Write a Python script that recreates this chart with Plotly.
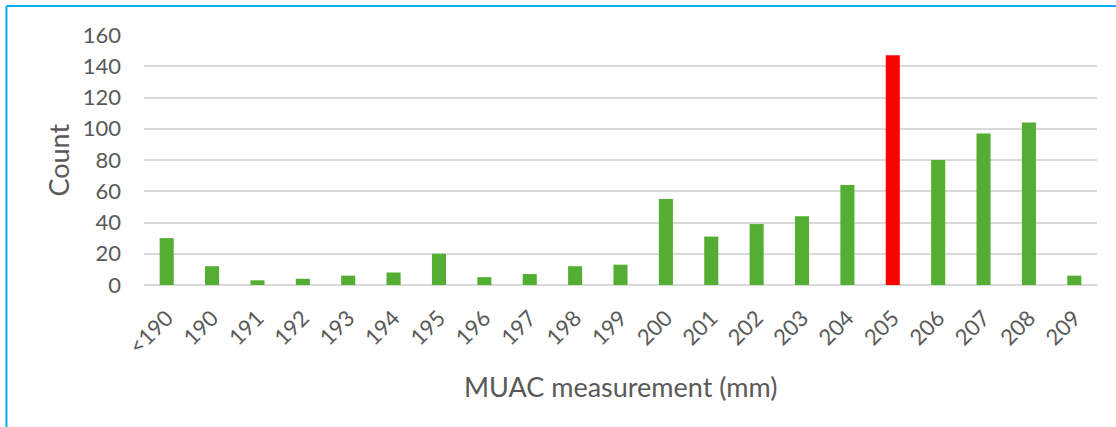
import plotly.graph_objects as go

# MUAC measurement bins and their counts
categories = ["<190", "190", "191", "192", "193", "194", "195", "196", "197", "198",
              "199", "200", "201", "202", "203", "204", "205", "206", "207", "208", "209"]
counts = [30, 12, 3, 4, 6, 8, 20, 5, 7, 12, 13, 55, 31, 39, 44, 64, 147, 80, 97, 104, 6]
highlight = "205"

y_ticks = [0, 20, 40, 60, 80, 100, 120, 140, 160]

GREEN = "#53AE33"
RED = "#FF0000"
TEXT = "#595959"
GRID = "#D9D9D9"
FRAME = "#00B0F0"
FONT = "Lato"

bar_colors = [RED if c == highlight else GREEN for c in categories]

fig = go.Figure(
    go.Bar(
        x=categories,
        y=counts,
        marker=dict(color=bar_colors, line=dict(width=0)),
        width=0.31,
        hoverinfo="x+y",
    )
)

fig.update_layout(
    width=1116,
    height=427,
    margin=dict(l=144, r=19, t=35, b=142),
    paper_bgcolor="white",
    plot_bgcolor="white",
    showlegend=False,
    font=dict(family=FONT, color=TEXT),
    xaxis=dict(
        type="category",
        tickangle=-45,
        tickfont=dict(size=22, color=TEXT, family=FONT),
        showgrid=False,
        showline=False,
        zeroline=False,
        ticks="",
        ticklabelstandoff=15,
    ),
    yaxis=dict(
        range=[0, 160],
        tickvals=y_ticks,
        tickfont=dict(size=22, color=TEXT, family=FONT),
        showgrid=True,
        gridcolor=GRID,
        gridwidth=2,
        zeroline=True,
        zerolinecolor=GRID,
        zerolinewidth=2,
        showline=False,
        ticks="",
        ticklabelstandoff=22,
    ),
    annotations=[
        dict(text="Count", xref="paper", yref="paper",
             x=-0.0907, y=0.5, textangle=-90, showarrow=False,
             font=dict(size=27, color=TEXT, family=FONT),
             xanchor="center", yanchor="middle"),
        dict(text="MUAC measurement (mm)", xref="paper", yref="paper",
             x=0.5, y=-0.405, showarrow=False,
             font=dict(size=27, color=TEXT, family=FONT),
             xanchor="center", yanchor="middle"),
    ],
    shapes=[
        # chart frame: top and left edges visible
        dict(type="line", xref="paper", yref="paper",
             x0=-0.1443, x1=1.1, y0=1.1162, y1=1.1162,
             line=dict(color=FRAME, width=2)),
        dict(type="line", xref="paper", yref="paper",
             x0=-0.1443, x1=-0.1443, y0=1.1162, y1=-0.6,
             line=dict(color=FRAME, width=2)),
    ],
)

fig.write_html("out.html")
